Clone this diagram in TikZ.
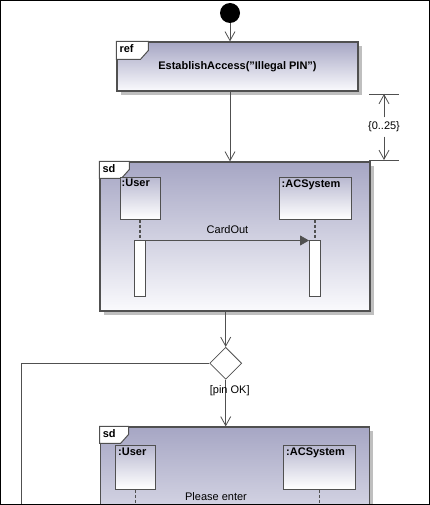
\documentclass[tikz,border=0pt]{standalone}
\usepackage{fontspec}
\setmainfont{Liberation Sans}
\usetikzlibrary{positioning, shapes.geometric, shadows, arrows.meta}
\definecolor{umlline}{RGB}{80,80,80}
\definecolor{umltop}{RGB}{166,166,196}
\definecolor{umlbot}{RGB}{250,250,253}
\definecolor{boxtop}{RGB}{184,184,208}
\tikzstyle{every node}=[font=\fontsize{11}{13}\selectfont, inner sep=0pt]
\tikzstyle{startnode} = [circle, fill=black, minimum size=20pt]
\tikzstyle{frag} = [rectangle, draw=umlline, line width=1.2pt, top color=umltop, bottom color=umlbot, drop shadow={shadow xshift=4pt, shadow yshift=-4pt, fill=gray!50, opacity=1}]
\tikzstyle{lifebox} = [rectangle, draw=umlline, line width=1pt, top color=boxtop, bottom color=white, minimum height=42pt]
\tikzstyle{bar} = [rectangle, draw=umlline, line width=1pt, fill=white, minimum width=11pt, minimum height=56pt]
\tikzstyle{decision} = [diamond, draw=umlline, fill=white, line width=0.8pt, minimum size=32pt]
\tikzstyle{arrow} = [draw=umlline, line width=0.8pt, -{Straight Barb[length=9pt, width=10pt]}]
\tikzstyle{line} = [draw=umlline, line width=0.8pt]
\tikzstyle{msg} = [draw=umlline, line width=0.8pt, -{Triangle[length=9pt, width=10pt]}]
\tikzstyle{lifeline} = [draw=umlline, line width=1.6pt, dash pattern=on 3pt off 2pt]
\tikzstyle{tagline} = [draw=umlline, line width=1pt, fill=white]
\tikzstyle{bold} = [font=\fontsize{11}{13}\selectfont\bfseries]
\newcommand{\fragtag}[4]{% node, text, width, height
  \draw[tagline] (#1.north west) -- ++(#3pt,0) -- ++(0,9pt-#4pt) -- ++(-8pt,-9pt) -- ++(8pt-#3pt,0) -- cycle;
  \node[bold, anchor=north west] at ([xshift=3pt, yshift=-3pt]#1.north west) {#2};}

\begin{document}
\begin{tikzpicture}[x=1pt, y=-1pt]
		\useasboundingbox (0,0) rectangle (430,505);
		\clip (0,0) rectangle (430,505);
		%nodes
		\node (start) [startnode] at (230,13) {};
		\node (ref) [frag, minimum width=241pt, minimum height=49pt, bold] at (237.5,66.5) {EstablishAccess("Illegal PIN")};
		\node (sd1) [frag, minimum width=270pt, minimum height=149pt] at (235,236.5) {};
		\node (dec) [decision] at (225.7,363.3) {};
		\node (sd2) [frag, minimum width=269pt, minimum height=149pt] at (234.7,501.5) {};
		\fragtag{ref}{ref}{32}{18}
		\fragtag{sd1}{sd}{30}{17}
		\fragtag{sd2}{sd}{29}{17}
		
		%lifelines
		\node (user1) [lifebox, minimum width=40pt, label={[bold, anchor=north west, inner sep=2pt]north west:{:User}}] at (140,198) {};
		\node (acs1) [lifebox, minimum width=72pt, label={[bold, anchor=north west, inner sep=3pt]north west:{:ACSystem}}] at (315,198) {};
		\node (bar1) [bar] at (140,268) {};
		\node (bar2) [bar] at (315,268) {};
		\node (user2) [lifebox, minimum width=40pt, minimum height=44pt, label={[bold, anchor=north west, inner sep=3pt]north west:{:User}}] at (135.5,467) {};
		\node (acs2) [lifebox, minimum width=72pt, minimum height=44pt, label={[bold, anchor=north west, inner sep=3pt]north west:{:ACSystem}}] at (319.5,467) {};
		\node (enter) at (216,497) {Please enter};
		
		%duration constraint
		\coordinate (dtop) at (384,94);
		\coordinate (dbot) at (384,160);
		\node (dur) [minimum height=19pt] at (384,127) {\{0..25\}};
		\draw [line] ([xshift=-15pt]dtop) -- ([xshift=15pt]dtop);
		\draw [line] ([xshift=-15pt]dbot) -- ([xshift=15pt]dbot);
		\draw [arrow](dur.north) -- (dtop);
		\draw [arrow](dur.south) -- (dbot);
		
		%connectors
		\draw [arrow](start) -- (ref.north -| start);
		\draw [arrow](ref.south -| start) -- (sd1.north -| start);
		\draw [arrow](sd1.south -| dec) -- (dec.north);
		\draw [arrow](dec.south) -- node[pos=0.23, xshift=4pt] {[pin OK]} (sd2.north -| dec);
		\coordinate (loopend) at (21,520);
		\draw [line](dec.west) -| (loopend);
		\draw [lifeline](user1.south) -- (bar1.north);
		\draw [lifeline](acs1.south) -- (bar2.north);
		\draw [msg]([yshift=-1pt]bar1.north east) -- node[above=6pt] {CardOut} ([yshift=-1pt]bar2.north west);
		\draw [lifeline](user2.south) -- ++(0,30);
		\draw [lifeline](acs2.south) -- ++(0,30);
		
		%frame
		\draw [black, line width=1.2pt] (0.6,0.6) rectangle (429.4,504.4);
	\end{tikzpicture}
\end{document}
